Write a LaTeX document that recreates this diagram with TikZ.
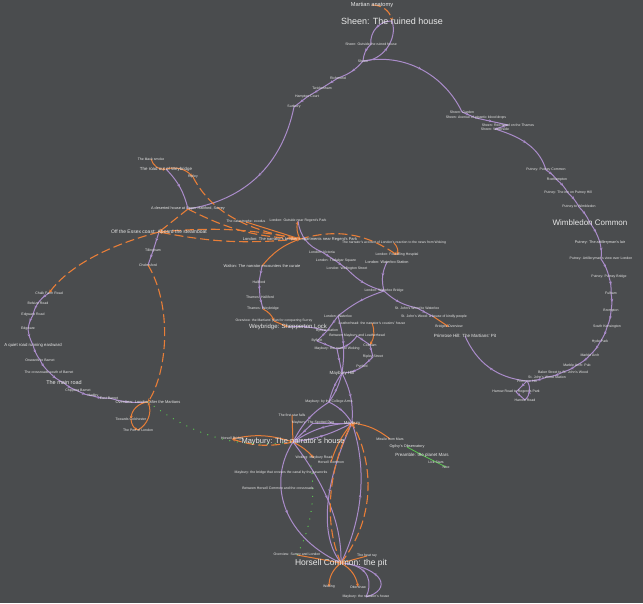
\documentclass[tikz,border=0pt]{standalone}
\usepackage{fontspec}
\setmainfont{Liberation Sans}
\usetikzlibrary{arrows.meta,decorations.markings}
\definecolor{bgc}{RGB}{74,76,78}
\definecolor{purp}{RGB}{170,140,202}
\definecolor{orng}{RGB}{232,126,56}
\definecolor{grn}{RGB}{90,200,80}
\definecolor{txt}{RGB}{232,232,232}
\pgfdeclarelayer{bgl}
\pgfdeclarelayer{edl}
\pgfsetlayers{bgl,edl,main}
\tikzset{
 lb/.style={text=txt,inner sep=0.3pt,font=\fontsize{3.5}{4}\selectfont},
 tsz/.style={font=\fontsize{#1}{#1}\selectfont},
 pe/.style={draw=purp,line width=1pt,postaction={decorate},
   decoration={markings,mark=at position 0.5 with {\arrow{Stealth[length=3.2pt,width=2.8pt,color=purp]}}}},
 oe/.style={draw=orng,line width=1.1pt,dash pattern=on 9pt off 4pt,-{Stealth[length=3.4pt,width=3pt]}},
 os/.style={draw=orng,line width=1pt,-{Stealth[length=3.4pt,width=3pt]}},
 ge/.style={draw=grn,line width=1.3pt,line cap=round,dash pattern=on 0.1pt off 7.5pt},
}
\begin{document}
\begin{tikzpicture}[x=1pt,y=-1pt]
\useasboundingbox (0,0) rectangle (643,603);
\begin{pgfonlayer}{bgl}
\fill[bgc] (0,0) rectangle (643,603);
\end{pgfonlayer}
% ---------- nodes: Sheen / Putney ----------
\node[lb,tsz=5.7] (ma) at (372,5) {Martian anatomy};
\node[lb,tsz=9] (sr) at (392,21) {Sheen: The ruined house};
\node[lb] (so) at (371,44) {Sheen: Outside the ruined house};
\node[lb] (sh) at (363,61) {Sheen};
\node[lb] (ri) at (338,78) {Richmond};
\node[lb] (tw) at (322,88) {Twickenham};
\node[lb] (hc) at (307,97) {Hampton Court};
\node[lb] (su) at (294,107) {Sunbury};
\node[lb] (sg) at (462,112) {Sheen: Garden};
\node[lb] (sa) at (476,118) {Sheen: Avenue of gigantic blood drops};
\node[lb] (sw) at (508,125) {Sheen: Red weed on the Thames};
\node[lb] (sm) at (495,129) {Sheen: Waterside};
\node[lb] (pc) at (546,170) {Putney: Putney Common};
\node[lb] (rh) at (557,180) {Roehampton};
\node[lb] (pi) at (568,193) {Putney: The inn on Putney Hill};
\node[lb] (pw) at (579,207) {Putney to Wimbledon};
\node[lb,tsz=8] (wc) at (590,223) {Wimbledon Common};
\node[lb,tsz=3.8] (al) at (600,243) {Putney: The artilleryman's lair};
\node[lb] (av) at (601,259) {Putney: Artilleryman's view over London};
\node[lb] (pb) at (609,277) {Putney: Putney Bridge};
\node[lb] (fu) at (611,293) {Fulham};
\node[lb] (br) at (611,311) {Brompton};
\node[lb] (sk) at (607,327) {South Kensington};
\node[lb] (hy) at (600,342) {Hyde Park};
\node[lb] (mb) at (590,355) {Marble Arch};
\node[lb] (mp) at (577,365) {Marble Arch: Pub};
\node[lb] (bs) at (563,372) {Baker Street to St. John's Wood};
\node[lb] (sj) at (547,377) {St. John's Wood Station};
\node[lb] (ph) at (527,381) {Primrose Hill};
\node[lb] (hr) at (516,392) {Harrow Road to Regent's Park};
\node[lb] (hw) at (525,400) {Harrow Road};
\node[lb,tsz=4.5] (pm) at (465,336) {Primrose Hill: The Martians' Pit};
\node[lb] (bo) at (449,327) {Bridges Overview};
\node[lb] (jw) at (434,317) {St. John's Wood: a house of kindly people};
\node[lb] (jt) at (417,308) {St. John's Wood to Waterloo};
% ---------- nodes: west / London ----------
\node[lb] (bk) at (151,159) {The black smoke};
\node[lb,tsz=4.4] (ro) at (166,169) {The road out of Weybridge};
\node[lb] (ry) at (193,177) {Ripley};
\node[lb,tsz=3.8] (dh) at (188,209) {A deserted house at Upper Halliford, Surrey};
\node[lb] (ct) at (246,222) {The catastrophe: exodus};
\node[lb] (lo) at (298,221) {London: Outside near Regent's Park};
\node[lb,tsz=5] (es) at (159,232) {Off the Essex coast: Aboard the steamboat};
\node[lb,tsz=4] (ap) at (300,239) {London: The narrator's brother's apartments near Regent's Park};
\node[lb,tsz=3.4] (na) at (394,243) {The narrator's account of London's reaction to the news from Woking};
\node[lb] (fh) at (397,255) {London: Foundling Hospital};
\node[lb,tsz=3.8] (ws) at (387,262) {London: Waterloo Station};
\node[lb] (vi) at (322,252) {London: Victoria};
\node[lb] (tq) at (336,261) {London: Trafalgar Square};
\node[lb] (wl) at (347,269) {London: Wellington Street};
\node[lb] (wb) at (384,291) {London: Waterloo Bridge};
\node[lb,tsz=4] (wa) at (262,266) {Walton: The narrator encounters the curate};
\node[lb] (ha) at (259,282) {Halliford};
\node[lb] (th) at (260,297) {Thames: Halliford};
\node[lb] (tw2) at (263,309) {Thames: Weybridge};
\node[lb,tsz=3.4] (op) at (274,321) {Overview: the Martians' plan for conquering Surrey};
\node[lb,tsz=6] (wy) at (288,327) {Weybridge: Shepperton Lock};
\node[lb] (lw) at (338,316) {London: Waterloo};
\node[lb] (lh) at (372,323) {Leatherhead: the narrator's cousins' house};
\node[lb] (bf) at (327,331) {Byfleet station};
\node[lb] (by) at (317,341) {Byfleet};
\node[lb] (bm) at (357,336) {Between Maybury and Leatherhead};
\node[lb] (cb) at (370,345) {Cobham};
\node[lb] (rs) at (373,357) {Ripley Street};
\node[lb] (py) at (362,367) {Pyrford};
\node[lb] (mw) at (337,349) {Maybury: the road to Woking};
\node[lb,tsz=4.5] (mh) at (342,373) {Maybury Hill};
% ---------- nodes: Maybury / Horsell ----------
\node[lb] (mc) at (329,402) {Maybury: by the College Arms};
\node[lb] (fs) at (292,415) {The first star falls};
\node[lb] (sd) at (313,423) {Maybury: The Spotted Dog};
\node[lb,tsz=4.3] (my) at (352,423) {Maybury};
\node[lb,tsz=7.5] (mn) at (293,442) {Maybury: The narrator's house};
\node[lb] (hb) at (232,439) {Horsell Bridge};
\node[lb] (mf) at (390,439) {Missile from Mars};
\node[lb,tsz=3.8] (ob) at (407,447) {Ogilvy's Observatory};
\node[lb,tsz=4.5] (pr) at (422,455) {Preamble: the planet Mars};
\node[lb] (ys) at (436,462) {Lick Stars};
\node[lb] (ni) at (446,467) {Nice};
\node[lb] (wm) at (314,458) {Woking: Maybury Road};
\node[lb] (hcm) at (331,462) {Horsell Common};
\node[lb] (mbg) at (281,473) {Maybury: the bridge that crosses the canal by the gasworks};
\node[lb] (bhc) at (278,488) {Between Horsell Common and the crossroads};
\node[lb] (osl) at (297,555) {Overview: Surrey and London};
\node[lb,tsz=8.5] (hp) at (341,563) {Horsell Common: the pit};
\node[lb] (wk) at (329,587) {Woking};
\node[lb] (ot) at (358,587) {Ottershaw};
\node[lb] (hr2) at (367,556) {The heat ray};
\node[lb] (mn2) at (366,597) {Maybury: the narrator's house};
% ---------- nodes: north of London ----------
\node[lb] (cf) at (49,293) {Chalk Farm Road};
\node[lb] (bz) at (38,303) {Belsize Road};
\node[lb] (er) at (33,315) {Edgware Road};
\node[lb] (ed) at (28,329) {Edgware};
\node[lb,tsz=4.3] (qr) at (33,345) {A quiet road running eastward};
\node[lb] (ow) at (40,360) {Onwards to Barnet};
\node[lb] (cr) at (49,372) {The crossroads south of Barnet};
\node[lb,tsz=5.5] (mr) at (64,383) {The main road};
\node[lb] (cbn) at (78,391) {Chipping Barnet};
\node[lb] (hd) at (93,396) {Hadley};
\node[lb] (eb) at (109,398) {East Barnet};
\node[lb,tsz=4] (ov) at (148,402) {Overview: London after the Martians};
\node[lb] (tc) at (131,419) {Towards Colchester};
\node[lb] (pl) at (138,430) {The Port of London};
\node[lb] (ti) at (153,251) {Tillingham};
\node[lb] (ch) at (148,265) {Chelmsford};
\coordinate (gd) at (311,466);
% ---------- edges ----------
\begin{pgfonlayer}{edl}
% Sheen
\draw[oe] (ma.center) to[bend left=40] (sr.center);
\draw[pe] (sr.center) to[bend right=50] (so.center);
\draw[pe] (so.center) to[bend right=20] (sh.center);
\draw[pe] (sh.center) to[bend right=55] (sr.center);
\draw[pe] (sh.center) to[bend left=15] (ri.center);
\draw[pe] (ri.center) -- (tw.center);
\draw[pe] (tw.center) -- (hc.center);
\draw[pe] (hc.center) -- (su.center);
\draw[pe] (su.center) .. controls (282,165) and (245,200) .. (dh.center);
\draw[pe] (sh.center) .. controls (410,52) and (447,80) .. (sg.center);
\draw[pe] (sg.center) -- (sa.center);
\draw[pe] (sa.center) -- (sw.center);
\draw[pe] (sw.center) -- (sm.center);
\draw[pe] (sm.center) .. controls (525,138) and (540,150) .. (pc.center);
\foreach \a/\b in {pc/rh,rh/pi,pi/pw,pw/wc,wc/al,al/av,av/pb,pb/fu,fu/br,br/sk,sk/hy,hy/mb,mb/mp,mp/bs,bs/sj,sj/ph}
  \draw[pe] (\a.center) to[bend left=10] (\b.center);
\draw[pe] (ph.center) -- (hr.center);
\draw[pe] (hr.center) -- (hw.center);
\draw[pe] (hw.center) to[bend right=40] (ph.center);
\draw[pe] (ph.center) to[bend left=30] (pm.center);
% west
\draw[os] (bk.center) to[bend right=40] (ro.center);
\draw[os] (ro.center) to[bend left=30] (ry.center);
\draw[pe] (ro.center) to[bend left=15] (dh.center);
\draw[oe] (dh.center) -- (es.center);
\draw[pe] (es.center) -- (ti.center);
\draw[pe] (ti.center) -- (ch.center);
\draw[oe] (es.center) .. controls (110,245) and (70,265) .. (cf.center);
\draw[oe] (ch.center) .. controls (172,305) and (168,370) .. (ov.center);
\foreach \a/\b in {cf/bz,bz/er,er/ed,ed/qr,qr/ow,ow/cr,cr/mr,mr/cbn,cbn/hd,hd/eb,eb/ov}
  \draw[pe] (\a.center) to[bend right=10] (\b.center);
\draw[os] (ov.center) to[bend right=40] (tc.center);
\draw[os] (tc.center) to[bend right=30] (pl.center);
\draw[os] (pl.center) to[bend right=40] (ov.center);
% London
\draw[oe] (es.center) to[bend left=8] (ap.center);
\draw[oe] (ap.center) to[bend left=8] (es.center);
\draw[oe] (ry.center) .. controls (205,200) and (230,228) .. (ap.center);
\draw[oe] (dh.center) to[bend right=12] (ap.center);
\draw[os] (ct.center) -- (ap.center);
\draw[os] (ap.center) to[bend left=20] (lo.center);
\draw[os] (wa.center) to[bend left=15] (ap.center);
\draw[oe] (ap.center) to[bend left=25] (fh.center);
\draw[os] (na.center) to[bend left=30] (fh.center);
\draw[pe] (lo.center) to[bend right=30] (vi.center);
\draw[pe] (vi.center) -- (tq.center);
\draw[pe] (tq.center) -- (wl.center);
\draw[pe] (wl.center) to[bend right=15] (wb.center);
\draw[pe] (ws.center) to[bend right=20] (wb.center);
\draw[pe] (wb.center) to[bend right=15] (jt.center);
\draw[pe] (jt.center) -- (jw.center);
\draw[os] (jw.center) -- (bo.center);
\draw[pe] (wb.center) to[bend right=10] (lw.center);
\draw[pe] (wa.center) -- (ha.center);
\draw[pe] (ha.center) -- (th.center);
\draw[pe] (th.center) -- (tw2.center);
\draw[os] (tw2.center) to[bend left=20] (op.center);
\draw[os] (op.center) -- (wy.center);
\draw[pe] (wy.center) to[bend left=10] (bf.center);
\draw[pe] (lw.center) -- (bf.center);
\draw[pe] (bf.center) -- (by.center);
\draw[pe] (by.center) -- (mw.center);
\draw[pe] (mw.center) to[bend right=20] (bm.center);
\draw[os] (lh.center) to[bend left=25] (cb.center);
\draw[pe] (bm.center) -- (cb.center);
\draw[pe] (cb.center) -- (rs.center);
\draw[pe] (rs.center) -- (py.center);
\draw[pe] (py.center) to[bend left=15] (mh.center);
\draw[pe] (mw.center) -- (mh.center);
\draw[pe] (lw.center) to[bend left=12] (mh.center);
% Maybury
\draw[pe] (mh.center) to[bend right=10] (mc.center);
\draw[pe] (mc.center) to[bend right=10] (mh.center);
\draw[pe] (mh.center) to[bend left=15] (my.center);
\draw[pe] (mc.center) to[bend right=15] (mn.center);
\draw[pe] (mc.center) to[bend left=15] (my.center);
\draw[pe] (sd.center) -- (mn.center);
\draw[pe] (sd.center) -- (my.center);
\draw[pe] (my.center) to[bend right=15] (mn.center);
\draw[pe] (mn.center) to[bend right=10] (my.center);
\draw[os] (fs.center) -- (mn.center);
\draw[os] (mn.center) to[bend right=15] (hb.center);
\draw[oe] (mn.center) to[bend left=15] (hb.center);
\draw[os] (mn.center) to[bend left=10] (wm.center);
\draw[os] (hcm.center) to[bend left=10] (my.center);
\draw[os] (mf.center) to[bend right=15] (my.center);
\draw[draw=grn,line width=0.8pt,-{Stealth[length=3pt]}] (ob.center) -- (pr.center);
\draw[draw=grn,line width=0.8pt] (pr.center) -- (ys.center) -- (ni.center);
\draw[pe] (mn.center) .. controls (268,480) and (280,535) .. (hp.center);
\draw[pe] (mn.center) .. controls (322,480) and (342,520) .. (hp.center);
\draw[pe] (my.center) .. controls (330,470) and (315,530) .. (hp.center);
\draw[pe] (hp.center) .. controls (362,520) and (368,470) .. (my.center);
\draw[oe] (hp.center) .. controls (378,515) and (372,460) .. (my.center);
\draw[oe] (hp.center) .. controls (322,520) and (330,465) .. (my.center);
\draw[pe] (hp.center) .. controls (372,565) and (372,585) .. (mn2.center);
\draw[pe] (mn2.center) .. controls (392,590) and (385,568) .. (hp.center);
\draw[os] (hp.center) to[bend right=25] (wk.center);
\draw[os] (hp.center) to[bend left=25] (ot.center);
\draw[os] (hr2.center) -- (hp.center);
\draw[os] (osl.center) -- (hp.center);
\draw[ge] (ov.center) .. controls (200,440) and (240,448) .. (mn.center);
\draw[ge] (gd) .. controls (316,500) and (310,530) .. (osl.center);
\end{pgfonlayer}
\end{tikzpicture}
\end{document}
